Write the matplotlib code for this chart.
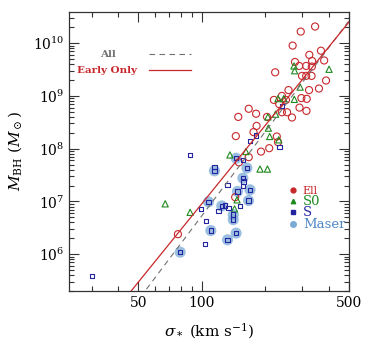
import numpy as np
import matplotlib
matplotlib.use("Agg")
import matplotlib.pyplot as plt
from matplotlib.lines import Line2D
from matplotlib.ticker import FixedLocator, NullFormatter, FuncFormatter

# ---------------- data ----------------
ell_sigma = [345, 295, 270, 368, 324, 277, 381, 334, 290, 313, 333, 223, 299, 313, 332,
             389, 360, 323, 258, 297, 315, 240, 220, 251, 233, 291, 314, 167, 181, 240,
             254, 268, 149, 204, 182, 176, 145, 227, 230, 209, 191, 167, 150, 77, 144]
ell_mass = [2.07e10, 1.66e10, 9.0e9, 7.2e9, 6.0e9, 4.4e9, 4.7e9, 4.6e9, 3.7e9, 3.7e9,
            3.6e9, 2.8e9, 2.4e9, 2.4e9, 2.4e9, 1.96e9, 1.38e9, 1.29e9, 1.29e9, 9.1e8,
            8.8e8, 1.0e9, 8.4e8, 8.4e8, 7.0e8, 6.0e8, 5.2e8, 5.7e8, 4.6e8, 4.9e8,
            4.9e8, 3.9e8, 4.0e8, 4.0e8, 2.7e8, 2.06e8, 1.73e8, 1.70e8, 1.33e8, 1.02e8,
            8.8e7, 6.9e7, 5.5e7, 2.39e6, 1.2e7]

s0_sigma = [274, 276, 402, 293, 230, 245, 275, 224, 206, 207, 210, 232, 136, 162,
            189, 205, 147, 143, 88, 67]
s0_mass = [3.7e9, 3.0e9, 3.2e9, 1.47e9, 8.9e8, 8.9e8, 8.6e8, 4.5e8, 4.0e8, 2.45e8,
           1.7e8, 1.47e8, 7.6e7, 8.8e7, 4.1e7, 4.1e7, 1.07e7, 7.2e6, 6.2e6, 9.0e6]

s_sigma = [30.0, 88, 78.9, 98.9, 107.6, 104.5, 110.3, 103.7, 114.8, 114.8, 120, 124.4,
           129, 134, 132.4, 132.4, 141, 141, 145.5, 145.5, 156.6, 163.7, 156.6, 157.7,
           156.6, 169.4, 147.6, 166.7, 152, 169.4, 181, 234, 240]
s_mass = [3.9e5, 7.6e7, 1.09e6, 7.2e6, 9.8e6, 4.2e6, 2.8e6, 1.55e6, 4.5e7, 3.8e7,
          6.6e6, 8.2e6, 8.4e6, 7.4e6, 2.06e7, 1.87e6, 5.6e6, 4.5e6, 2.5e6, 6.6e7,
          6.1e7, 4.3e7, 2.76e7, 2.4e7, 1.97e7, 1.66e7, 1.54e7, 1.04e7, 8.1e6, 1.41e8,
          1.78e8, 1.07e8, 6.5e8]
s_maser = [0, 0, 1, 0, 1, 0, 1, 0, 0, 1, 0, 1,
           0, 0, 0, 1, 1, 1, 1, 1, 0, 1, 1, 0,
           0, 1, 1, 1, 0, 0, 0, 0, 0]

# fits: log M = a + b log(sigma/200)
fit_labels = ["All", "Early Only"]
fit_intercept = [8.32, 8.44]
fit_slope = [5.29, 4.93]

x_ticks = [50, 100, 500]
y_ticks = [1e6, 1e7, 1e8, 1e9, 1e10]

type_labels = ["Ell", "S0", "S", "Maser"]

# ---------------- style ----------------
plt.rcParams["font.family"] = ["DejaVu Serif"]
plt.rcParams["mathtext.fontset"] = "dejavuserif"

RED = "#c8282c"
GREEN = "#1f8a1f"
BLUE = "#2424a0"
MASER = "#7aaad6"
GREY = "#707070"

fig = plt.figure(figsize=(3.74, 3.44), dpi=100)
ax = fig.add_axes([69 / 374, 1 - 291 / 344, 280 / 374, 279 / 344])
ax.set_xscale("log")
ax.set_yscale("log")
ax.set_xlim(23.4, 500)
ax.set_ylim(2.0e5, 3.9e10)

# maser halos
ms = np.array(s_maser, dtype=bool)
ssig = np.array(s_sigma)
smas = np.array(s_mass)
ax.scatter(ssig[ms], smas[ms], s=64, color=MASER, alpha=0.75, edgecolors="none", zorder=2)

# points
ax.scatter(ell_sigma, ell_mass, s=26, facecolors="none", edgecolors=RED, linewidths=0.8, zorder=3)
ax.scatter(s0_sigma, s0_mass, s=20, marker="^", facecolors="none", edgecolors=GREEN, linewidths=0.8, zorder=3)
ax.scatter(s_sigma, s_mass, s=10, marker="s", facecolors="none", edgecolors=BLUE, linewidths=0.8, zorder=4)

# fits
sg = np.logspace(np.log10(20), np.log10(520), 200)
styles = [dict(color=GREY, ls=(0, (5, 4)), lw=0.8), dict(color=RED, ls="-", lw=0.9)]
for a, b, st in zip(fit_intercept, fit_slope, styles):
    ax.plot(sg, 10 ** (a + b * np.log10(sg / 200.0)), zorder=5, **st)

# left legend (fit lines): key lines + labels
key_y = [0.849, 0.792]
label_x = [0.112, 0.028]
for st, ky, lx, lab in zip(styles, key_y, label_x, fit_labels):
    ax.plot([0.286, 0.436], [ky, ky], transform=ax.transAxes, **st)
    ax.text(lx, ky, lab, transform=ax.transAxes, ha="left", va="center",
            fontsize=7.5, fontweight="bold", color=st["color"])

# right legend (types)
type_colors = [RED, GREEN, BLUE, "#4f88c4"]
type_markers = ["o", "^", "s", "o"]
type_sizes = [3.5, 3.2, 2.8, 4.0]
h2 = [Line2D([], [], ls="none", marker=m, color=c, markersize=s)
      for m, c, s in zip(type_markers, [RED, GREEN, BLUE, MASER], type_sizes)]
leg2 = ax.legend(h2, type_labels, loc="upper left", bbox_to_anchor=(0.755, 0.40),
                 frameon=False, fontsize=9, handlelength=1.0, handletextpad=0.3,
                 labelspacing=-0.12, borderpad=0)
for t, c, fs in zip(leg2.get_texts(), type_colors, [8, 9.5, 9.5, 9.5]):
    t.set_color(c)
    t.set_fontsize(fs)

# ticks
ax.xaxis.set_major_locator(FixedLocator(x_ticks))
ax.xaxis.set_major_formatter(FuncFormatter(lambda v, p: "%d" % v))
ax.xaxis.set_minor_locator(FixedLocator([30, 40, 60, 70, 80, 90, 200, 300, 400]))
ax.xaxis.set_minor_formatter(NullFormatter())
ax.yaxis.set_major_locator(FixedLocator(y_ticks))
ax.yaxis.set_major_formatter(FuncFormatter(lambda v, p: r"$10^{%d}$" % round(np.log10(v))))
ax.yaxis.set_minor_locator(matplotlib.ticker.LogLocator(base=10, subs=np.arange(2, 10)))
ax.yaxis.set_minor_formatter(NullFormatter())
ax.tick_params(which="both", direction="in", top=True, right=True, labelsize=10, width=0.8, color="#333333")
ax.tick_params(which="major", length=7)
ax.tick_params(which="minor", length=3.5)
for sp in ax.spines.values():
    sp.set_linewidth(0.9)
    sp.set_color("#333333")

ax.set_xlabel(r"$\sigma_*$ (km s$^{-1}$)", fontsize=11, labelpad=8)
ax.set_ylabel(r"$M_{\rm BH}$ ($M_\odot$)", fontsize=11, labelpad=6)

fig.savefig("out.png", dpi=100)
